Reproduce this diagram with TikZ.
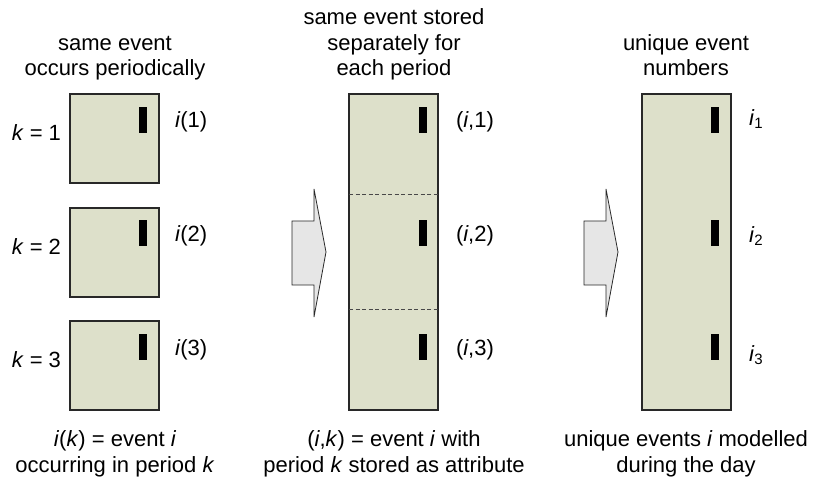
\documentclass[tikz,border=0pt]{standalone}
\usepackage{fontspec}
\setmainfont{Liberation Sans}
\definecolor{cellfill}{RGB}{221,224,202}
\definecolor{arrowfill}{RGB}{230,230,230}
\definecolor{edge}{RGB}{40,40,40}
\newcommand{\subnum}[1]{\raisebox{-3pt}{\fontsize{15}{15}\selectfont #1}}
\begin{document}
\begin{tikzpicture}[x=1pt,y=-1pt,
  every node/.style={inner sep=0pt, outer sep=0pt, font=\fontsize{22}{25.5}\selectfont},
  cell/.style={draw=edge, line width=1.2pt, fill=cellfill, minimum width=89pt,
    minimum height=89pt, anchor=north west},
  column/.style={cell, minimum height=316pt},
  bar/.style={fill=black, minimum width=8pt, minimum height=26pt, anchor=north west},
  divider/.style={draw=edge!85, line width=1pt, dash pattern=on 4pt off 2.5pt},
  bigarrow/.style={draw=edge, line width=0.8pt, fill=arrowfill, line join=miter},
  label/.style={anchor=base west},
  klabel/.style={anchor=base east},
  caption/.style={align=center, anchor=base}]
\useasboundingbox (0,0) rectangle (827,497);

% headers (anchored at the baseline of their last line)
\node[caption] (h1) at (115,76) {same event\\occurs periodically};
\node[caption] (h2) at (394,76) {same event stored\\separately for\\each period};
\node[caption] (h3) at (686,76) {unique event\\numbers};

% left column: one box per period
\node[cell] (a1) at (70,94)  {};
\node[cell] (a2) at (70,208) {};
\node[cell] (a3) at (70,321) {};
\node[bar] (ab1) at (139,107) {};
\node[bar] (ab2) at (139,220) {};
\node[bar] (ab3) at (139,334) {};
\node[klabel] (k1) at (61,141) {\textit{k} = 1};
\node[klabel] (k2) at (61,254) {\textit{k} = 2};
\node[klabel] (k3) at (61,367) {\textit{k} = 3};
\node[label] (ai1) at (175,128) {\textit{i}(1)};
\node[label] (ai2) at (175,241) {\textit{i}(2)};
\node[label] (ai3) at (175,355) {\textit{i}(3)};

% middle column: one table split into periods
\node[column] (b) at (349,94) {};
\coordinate (d1) at (0,195);
\coordinate (d2) at (0,309);
\draw[divider] (b.west |- d1) -- (b.east |- d1);
\draw[divider] (b.west |- d2) -- (b.east |- d2);
\node[bar] (bb1) at (419,107) {};
\node[bar] (bb2) at (419,220) {};
\node[bar] (bb3) at (419,334) {};
\node[label] (bi1) at (456,128) {(\textit{i},1)};
\node[label] (bi2) at (456,241) {(\textit{i},2)};
\node[label] (bi3) at (456,355) {(\textit{i},3)};

% right column: unique numbering
\node[column] (c) at (642,94) {};
\node[bar] (cb1) at (711,107) {};
\node[bar] (cb2) at (711,220) {};
\node[bar] (cb3) at (711,334) {};
\node[label] (ci1) at (749,126) {\textit{i}\subnum{1}};
\node[label] (ci2) at (749,242) {\textit{i}\subnum{2}};
\node[label] (ci3) at (749,361) {\textit{i}\subnum{3}};

% block arrows between the columns
\draw[bigarrow] (292,221) -- (314,221) -- (314,189) -- (326,252) -- (314,317)
  -- (314,285) -- (292,285) -- cycle;
\draw[bigarrow] (584,221) -- (606,221) -- (606,189) -- (618,252) -- (606,317)
  -- (606,285) -- (584,285) -- cycle;

% footers (anchored at the baseline of their last line)
\node[caption] (f1) at (115,472) {\textit{i}(\textit{k}) = event \textit{i}\\occurring in period \textit{k}};
\node[caption] (f2) at (394,472) {(\textit{i},\textit{k}) = event \textit{i} with\\period \textit{k} stored as attribute};
\node[caption] (f3) at (686,472) {unique events \textit{i} modelled\\during the day};
\end{tikzpicture}
\end{document}
